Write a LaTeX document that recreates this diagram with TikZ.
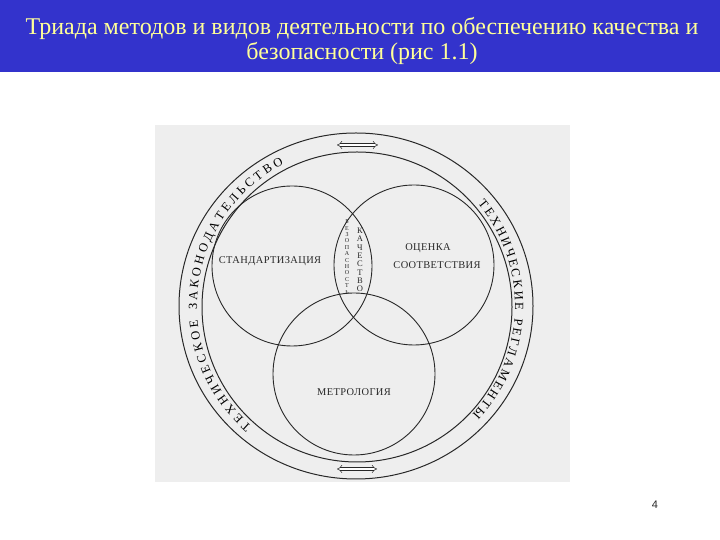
\documentclass[tikz,border=0pt]{standalone}
\usepackage{fontspec}
\setmainfont{Liberation Serif}
\newfontfamily\labelfont[LetterSpace=4]{Liberation Serif}
\newfontfamily\pagefont{Liberation Sans}
\usetikzlibrary{arrows.meta,decorations.text}
\definecolor{slideblue}{RGB}{51,51,204}
\definecolor{titleyellow}{RGB}{255,255,153}
\definecolor{scanbg}{RGB}{238,238,238}
\definecolor{ink}{RGB}{40,40,40}

\begin{document}
\begin{tikzpicture}[x=1pt,y=1pt,
    ring/.style={draw=ink,line width=1pt},
    venn/.style={draw=ink,line width=0.9pt},
    word/.style={text=ink,inner sep=0pt,font=\labelfont\fontsize{10.4}{12}\selectfont},
    swap/.style={draw=ink,line width=0.5pt,double,double distance=2.2pt,
      {Implies[length=4pt]}-{Implies[length=4pt]}}]
  \useasboundingbox (0,0) rectangle (720,540);
  \fill[white] (0,0) rectangle (720,540);
  \fill[slideblue] (0,468) rectangle (720,540);
  \node (title) at (362,499) [text=titleyellow,align=center,
      font=\fontsize{24}{25}\selectfont]
    {Триада методов и видов деятельности по обеспечению качества и\\безопасности (рис 1.1)};
  \fill[scanbg] (155,58) rectangle (570,415);

  \draw[ring] (356,234) circle[x radius=177,y radius=173];
  \draw[ring] (357,233) circle[radius=155];

  \draw[venn] (292,274) circle[radius=80];
  \draw[venn] (414,275) circle[radius=80];
  \draw[venn] (354,166) circle[radius=81];

  \path[decorate,decoration={text along path,text align={fit to path},
      text={|\labelfont\fontsize{12.5}{14}\selectfont|ТЕХНИЧЕСКОЕ ЗАКОНОДАТЕЛЬСТВО}}]
    (356,234) ++(229:159) arc[start angle=229,end angle=117,radius=159];
  \path[decorate,decoration={text along path,text align={fit to path},
      text={|\labelfont\fontsize{12.5}{14}\selectfont|ТЕХНИЧЕСКИЕ РЕГЛАМЕНТЫ}}]
    (356,234) ++(40:159) arc[start angle=40,end angle=-43,radius=159];

  \begin{scope}[every node/.style={word}]
    \node (std) at (270,279) {СТАНДАРТИЗАЦИЯ};
    \node (ocen) at (428,292) {ОЦЕНКА};
    \node (sootv) at (437,275) {СООТВЕТСТВИЯ};
    \node (metr) at (354,148) {МЕТРОЛОГИЯ};
    \node (bez) at (347,283) [align=center,font=\fontsize{6}{6.4}\selectfont]
      {Б\\Е\\З\\О\\П\\А\\С\\Н\\О\\С\\Т\\Ь};
    \node (kach) at (360,280) [align=center,font=\fontsize{8.5}{8.3}\selectfont]
      {К\\А\\Ч\\Е\\С\\Т\\В\\О};
  \end{scope}

  \coordinate (topL) at (337,395);
  \coordinate (topR) at (378,395);
  \coordinate (botL) at (337,71);
  \coordinate (botR) at (377,71);
  \draw[swap] (topL) -- (topR);
  \draw[swap] (botL) -- (botR);

  \node (pagenum) at (655,35) [font=\pagefont\fontsize{11}{13}\selectfont,text=ink] {4};
\end{tikzpicture}
\end{document}
